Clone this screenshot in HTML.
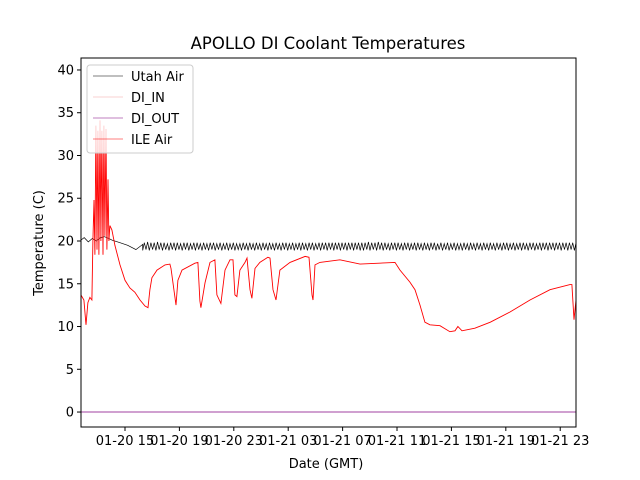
<!DOCTYPE html>
<html><head><meta charset="utf-8"><style>
html,body{margin:0;padding:0;background:#fff}
svg{display:block;font-family:"DejaVu Sans","Liberation Sans",sans-serif}
</style></head><body>
<svg id="chart" width="640" height="480" xmlns="http://www.w3.org/2000/svg">
<rect width="640" height="480" fill="#fff"/>
<text x="328" y="49" text-anchor="middle" font-size="16.5">APOLLO DI Coolant Temperatures</text>
<g id="plot"></g>
<g id="axes"></g>
<text x="326" y="468" text-anchor="middle" font-size="13">Date (GMT)</text>
<text transform="translate(43,243) rotate(-90)" text-anchor="middle" font-size="13">Temperature (C)</text>
<g>
<rect x="87" y="65" width="106" height="88" rx="3" fill="#fff" fill-opacity="0.8" stroke="#ccc"/>
<line x1="93" y1="76" x2="123" y2="76" stroke="#000" stroke-width="0.6"/>
<text x="131" y="81" font-size="13">Utah Air</text>
<line x1="93" y1="97" x2="123" y2="97" stroke="#f6a5a5" stroke-width="0.6"/>
<text x="131" y="102" font-size="13">DI_IN</text>
<line x1="93" y1="118" x2="123" y2="118" stroke="#800080" stroke-width="0.6"/>
<text x="131" y="123" font-size="13">DI_OUT</text>
<line x1="93" y1="139" x2="123" y2="139" stroke="#f00" stroke-width="0.6"/>
<text x="131" y="144" font-size="13">ILE Air</text>
</g>
</svg>
<script>
const xTickHours=[15,19,23,27,31,35,39,43,47];
const xTickLabels=["01-20 15","01-20 19","01-20 23","01-21 03","01-21 07","01-21 11","01-21 15","01-21 19","01-21 23"];
const yTicks=[0,5,10,15,20,25,30,35,40];
const ileTime=[11.76,11.98,12.13,12.27,12.42,12.57,12.64,12.72,12.79,12.86,12.94,13.01,13.08,13.16,13.23,13.30,13.38,13.45,13.52,13.60,13.67,13.75,13.82,13.89,14.04,14.26,14.63,15.0,15.36,15.73,16.10,16.47,16.69,16.83,16.98,17.35,17.94,18.30,18.38,18.75,18.89,19.19,20.14,20.36,20.51,20.58,20.88,21.25,21.61,21.76,22.05,22.35,22.72,22.94,23.08,23.23,23.45,23.82,23.97,24.19,24.33,24.56,24.92,25.51,25.66,25.88,26.10,26.39,27.13,28.24,28.53,28.75,28.82,28.97,29.33,30.80,32.28,34.85,35.22,35.95,36.32,36.69,37.05,37.42,38.16,38.89,39.26,39.48,39.78,40.73,41.86,43.31,44.78,46.25,47.72,47.86,48.01,48.16];
const ileTemp=[13.7,13.1,10.2,12.8,13.4,13.1,20,24.8,18.4,33.5,19,32.9,18.4,34.1,20,32.9,18.4,33.5,20.6,33.1,19,27.2,20,21.8,21.3,19.5,17.2,15.4,14.5,14.0,13.1,12.4,12.2,14.3,15.7,16.6,17.2,17.3,16.8,12.5,15.4,16.6,17.4,17.5,13,12.2,15.1,17.5,17.8,13.7,12.7,16.6,17.8,17.8,13.7,13.5,16.6,17.5,18.0,14.3,13.3,16.8,17.5,18.1,18.0,14.3,13.1,16.6,17.5,18.2,18.1,13.7,13.1,17.2,17.5,17.8,17.3,17.5,16.6,15.2,14.3,12.5,10.5,10.2,10.1,9.4,9.5,10.0,9.5,9.8,10.5,11.7,13.1,14.3,14.9,14.9,10.8,13.1];
const utahEarlyTime=[11.76,12.0,12.3,12.6,12.9,13.2,13.5,13.8,14.04,14.63,15.2,15.8,16.3];
const utahEarlyTemp=[20.1,20.4,19.9,20.3,20.0,20.4,20.5,20.3,20.1,19.8,19.5,19.0,19.6];
const utahOscStart=16.3, utahOscEnd=48.16;
const utahOscTemp=[18.9,19.8,19.0,19.9,18.9,19.8,19.0,19.8,18.9,19.9,19.0,19.8,18.9,19.8,19.0,19.7,18.9,19.8,19.0,19.8,18.9,19.8,19.0,19.7,18.9,19.8,19.0,19.8,18.9,19.7,19.0,19.8,18.9,19.8,19.0,19.7,18.9,19.8,19.0,19.7,18.9,19.8,19.0,19.8,18.9,19.7,19.0,19.8,18.9,19.7,19.0,19.8,18.9,19.7,19.0,19.8,18.9,19.7,19.0,19.7,18.9,19.8,19.0,19.7,18.9,19.8,19.0,19.7,18.9,19.8,19.0,19.7,18.9,19.8,19.0,19.7,18.9,19.8,19.0,19.7,18.9,19.8,19.0,19.7,18.9,19.8,19.0,19.8,18.9,19.7,19.0,19.8,18.9,19.7,19.0,19.8,18.9,19.8,19.0,19.7,18.9,19.8,19.0,19.8,18.9,19.7,19.0,19.8,18.9,19.8,19.0,19.8,18.9,19.8,19.0,19.8,18.9,19.8,19.0,19.8,18.9,19.8,19.0,19.8,18.9,19.8,19.0,19.8,18.9,19.8,19.0,19.8,18.9,19.8,
18.9,19.8,19.0,19.9,18.9,19.8,19.0,19.8,18.9,19.9,19.0,19.8,18.9,19.8,19.0,19.7,18.9,19.8,19.0,19.8,18.9,19.8,19.0,19.7,18.9,19.8,19.0,19.8,18.9,19.7,19.0,19.8,18.9,19.8,19.0,19.7,18.9,19.8,19.0,19.7,18.9,19.8,19.0,19.8,18.9,19.7,19.0,19.8,18.9,19.7,19.0,19.8,18.9,19.7,19.0,19.8,18.9,19.7,19.0,19.7,18.9,19.8,19.0,19.7,18.9,19.8,19.0,19.7,18.9,19.8,19.0,19.7,18.9,19.8,19.0,19.7,18.9,19.8,19.0,19.7,18.9,19.8,19.0,19.7,18.9,19.8,19.0,19.8,18.9,19.7,19.0,19.8,18.9,19.7,19.0,19.8,18.9,19.8,19.0,19.7,18.9,19.8,19.0,19.8,18.9,19.7,19.0,19.8,18.9,19.8,19.0,19.8,18.9,19.8,19.0,19.8,18.9,19.8,19.0,19.8,18.9,19.8,19.0,19.8,18.9,19.8,19.0,19.8,18.9,19.8];
const diOutTime=[11.76,48.16];
const diOutTemp=[0,0];

const L=81,R=576,T=58,B=427;
const xMin=11.765,xMax=48.16,yMin=-1.75,yMax=41.4;
const X=h=>L+(h-xMin)/(xMax-xMin)*(R-L);
const Y=v=>B-(v-yMin)/(yMax-yMin)*(B-T);
const NS="http://www.w3.org/2000/svg";
const plot=document.getElementById('plot'),axes=document.getElementById('axes');
function mk(tag,attrs,parent){const e=document.createElementNS(NS,tag);for(const k in attrs)e.setAttribute(k,attrs[k]);parent.appendChild(e);return e;}
const cp=mk('clipPath',{id:'clip'},plot);mk('rect',{x:L,y:T,width:R-L,height:B-T},cp);
function line(ts,vs,color,name,w){
  const d=ts.map((t,i)=>(i?'L':'M')+X(t).toFixed(1)+','+Y(vs[i]).toFixed(1)).join('');
  const p=mk('path',{d:d,fill:'none',stroke:color,'stroke-width':w,'clip-path':'url(#clip)'},plot);
  
  
}
const oscTime=utahOscTemp.map((_,i)=>utahOscStart+(utahOscEnd-utahOscStart)*i/(utahOscTemp.length-1));
line(utahEarlyTime.concat(oscTime),utahEarlyTemp.concat(utahOscTemp),'#000','utah-air-line',0.7);
line(diOutTime,diOutTemp,'#800080','di-out-line',0.7);
line(ileTime,ileTemp,'#f00','ile-air-line',0.9);
const fr=mk('rect',{x:L,y:T,width:R-L,height:B-T,fill:'none',stroke:'#000','stroke-width':1},axes);


yTicks.forEach(v=>{
  const y=Y(v);
  mk('line',{x1:L-4,y1:y,x2:L,y2:y,stroke:'#000'},axes);
  const t=mk('text',{x:L-7,y:y+4.5,'text-anchor':'end','font-size':13},axes);
  t.textContent=v;
  
  
});
xTickHours.forEach((h,i)=>{
  const x=X(h);
  mk('line',{x1:x,y1:B,x2:x,y2:B+4,stroke:'#000'},axes);
  const t=mk('text',{x:x,y:B+18,'text-anchor':'middle','font-size':13},axes);
  t.textContent=xTickLabels[i];
  
  
});
</script>
</body></html>
